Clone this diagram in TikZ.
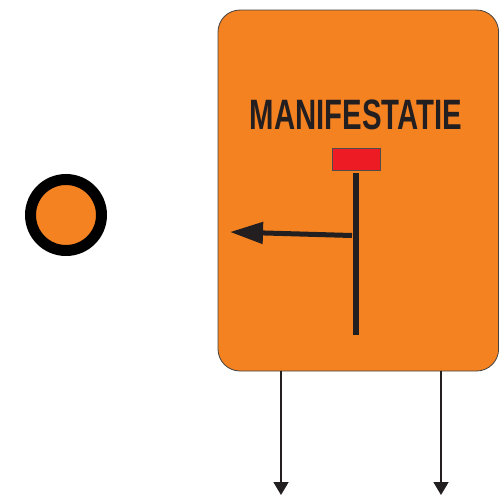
\documentclass[tikz,border=0pt]{standalone}
\usepackage{fontspec}
\setmainfont{Liberation Sans}
\usetikzlibrary{arrows.meta}
\definecolor{signorange}{HTML}{F58220}
\definecolor{signred}{HTML}{ED1C24}
\definecolor{ink}{HTML}{231F20}
\tikzset{
  px/.style={x=1pt,y=-1pt},
  signbox/.style={draw=ink!85,line width=0.8pt,fill=signorange,rounded corners=22pt},
  bar/.style={draw=ink,line width=6pt},
  downarrow/.style={draw=ink,line width=1.8pt,-{Triangle[length=13pt 0 0,width=15pt 0 0]}},
}
\begin{document}
\begin{tikzpicture}[px]
\useasboundingbox (0,0) rectangle (499,496);
% ring
\node[circle,draw=black,line width=11pt,fill=signorange,minimum size=71pt,inner sep=0pt] (ring) at (66,215) {};
% sign
\draw[signbox] (218,10) rectangle (498.6,371);
\coordinate (signL) at (281,371);
\coordinate (signR) at (441,371);
\node[font=\bfseries\fontsize{42.5}{46}\selectfont,text=ink,inner sep=0pt] (title) at (356,115) {\scalebox{0.69}[1]{MANIFESTATIE}};
\node[draw=ink!80,line width=0.6pt,fill=signred,minimum width=48pt,minimum height=22pt,inner sep=0pt] (flag) at (356,159.5) {};
\coordinate (poleTop) at (356,173);
\coordinate (poleBot) at (356,335);
\draw[bar,line cap=butt] (poleTop) -- (poleBot);
\coordinate (armStart) at (352,235.5);
\coordinate (armTip) at (230,232);
\draw[draw=ink,line width=5pt,-{Triangle[length=33pt 0 0,width=21pt 0 0]}] (armStart) -- (armTip);
% legs
\coordinate (legLend) at (281,495);
\coordinate (legRend) at (441,495);
\draw[downarrow] (signL) -- (legLend);
\draw[downarrow] (signR) -- (legRend);
\end{tikzpicture}
\end{document}
